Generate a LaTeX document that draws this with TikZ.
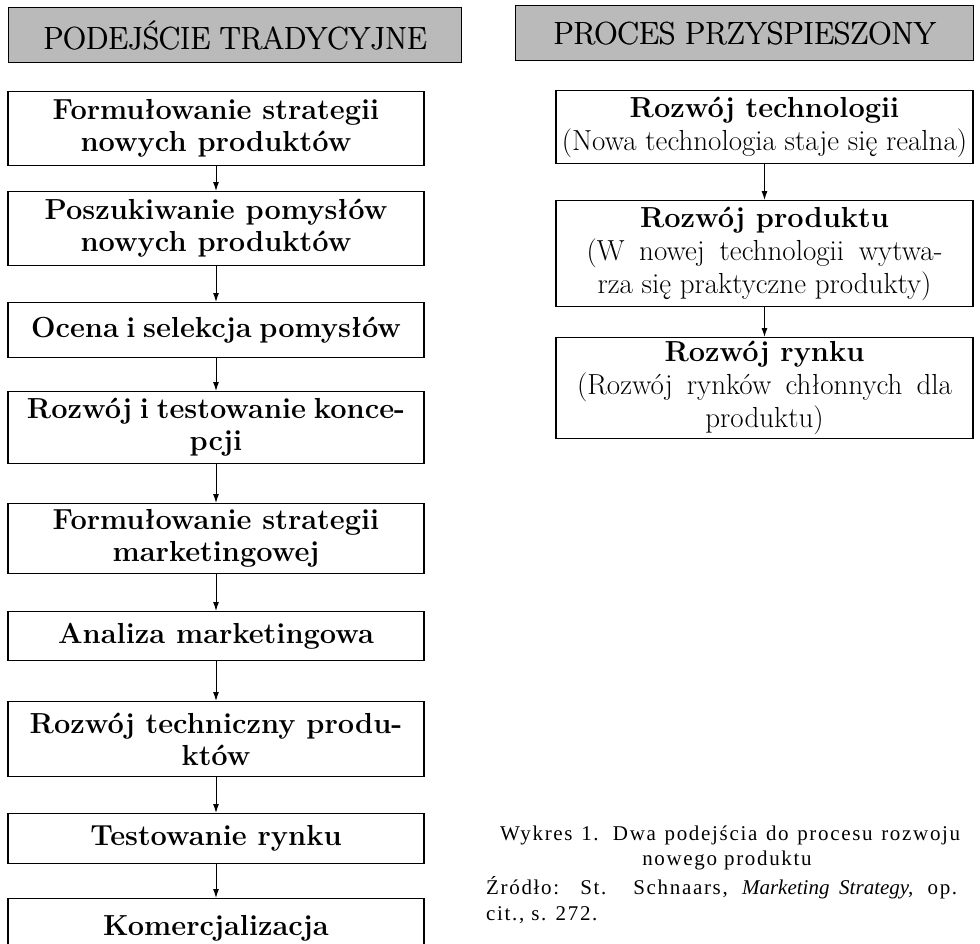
\documentclass[tikz,border=0pt]{standalone}
\usepackage{fontspec}
\newfontfamily\capfont[LetterSpace=8]{Liberation Serif}
\newfontfamily\capnl{Liberation Serif}
\newcommand\heavytxt[1]{\makebox[0pt][l]{#1}\kern0.7pt#1}
\usetikzlibrary{arrows.meta}
\begin{document}
\begin{tikzpicture}[x=1pt,y=-1pt,
  hdr/.style={draw, line width=1.3pt, fill=black!27, anchor=north west, inner sep=0pt,
    font=\fontsize{32}{32}\selectfont},
  lbox/.style={draw, line width=1.1pt, minimum width=416pt, anchor=north, inner sep=0pt,
    align=center, font=\fontsize{29}{32}\selectfont\bfseries},
  rbox/.style={draw, line width=1.1pt, minimum width=417pt, anchor=north, inner sep=0pt,
    align=center, font=\fontsize{29}{33}\selectfont},
  arr/.style={-{Latex[length=9pt,width=6pt]}, line width=1pt},
  captxt/.style={inner sep=0pt, font=\fontsize{21}{21}\selectfont\capfont}]
\useasboundingbox (0,0) rectangle (980,943);
\clip (0,0) rectangle (980,943);
% headers
\node[hdr, minimum width=453pt, minimum height=55pt] (h1) at (8,7) {\scalebox{0.985}[1]{\heavytxt{PODEJŚCIE TRADYCYJNE}}};
\node[hdr, minimum width=458pt, minimum height=55pt] (h2) at (515,5) {\heavytxt{PROCES PRZYSPIESZONY}};
% left column
\node[lbox, minimum height=74pt] (b1) at (216,91) {Formułowanie strategii\\nowych produktów};
\node[lbox, minimum height=74pt] (b2) at (216,191) {Poszukiwanie pomysłów\\nowych produktów};
\node[lbox, minimum height=55pt] (b3) at (216,302) {\makebox[370pt][s]{Ocena i selekcja pomysłów}};
\node[lbox, minimum height=72pt] (b4) at (216,391) {\makebox[378pt][s]{Rozwój i testowanie konce-}\\pcji};
\node[lbox, minimum height=70pt] (b5) at (216,503) {Formułowanie strategii\\marketingowej};
\node[lbox, minimum height=49pt] (b6) at (216,611) {Analiza marketingowa};
\node[lbox, minimum height=75pt] (b7) at (216,701) {Rozwój techniczny produ-\\któw};
\node[lbox, minimum height=50pt] (b8) at (216,813) {Testowanie rynku};
\node[lbox, minimum height=60pt] (b9) at (216,898) {Komercjalizacja};
\foreach \a/\b in {b1/b2,b2/b3,b3/b4,b4/b5,b5/b6,b6/b7,b7/b8,b8/b9}
  \draw[arr] (\a.south) -- (\b.north);
% right column
\node[rbox, minimum height=73pt] (r1) at (764.5,90) {\textbf{Rozwój technologii}\\(Nowa technologia staje się realna)};
\node[rbox, minimum height=106pt] (r2) at (764.5,200) {\textbf{Rozwój produktu}\\\makebox[356pt][s]{(W nowej technologii wytwa-}\\rza się praktyczne produkty)};
\node[rbox, minimum height=101pt] (r3) at (764.5,337) {\textbf{Rozwój rynku}\\\makebox[375pt][s]{(Rozwój rynków chłonnych dla}\\produktu)};
\draw[arr] (r1.south) -- (r2.north);
\draw[arr] (r2.south) -- (r3.north);
% caption
\node[captxt, anchor=base west] (c1) at (500,840) {\makebox[460pt][s]{Wykres 1. Dwa podejścia do procesu rozwoju}};
\node[captxt, anchor=base] (c2) at (727,865) {nowego produktu};
\node[captxt, anchor=base west] (c3) at (486,894) {\makebox[471pt][s]{Źródło: St. Schnaars, {\capnl\itshape Marketing Strategy,} op.}};
\node[captxt, anchor=base west] (c4) at (486,920) {cit., s. 272.};
\end{tikzpicture}
\end{document}
